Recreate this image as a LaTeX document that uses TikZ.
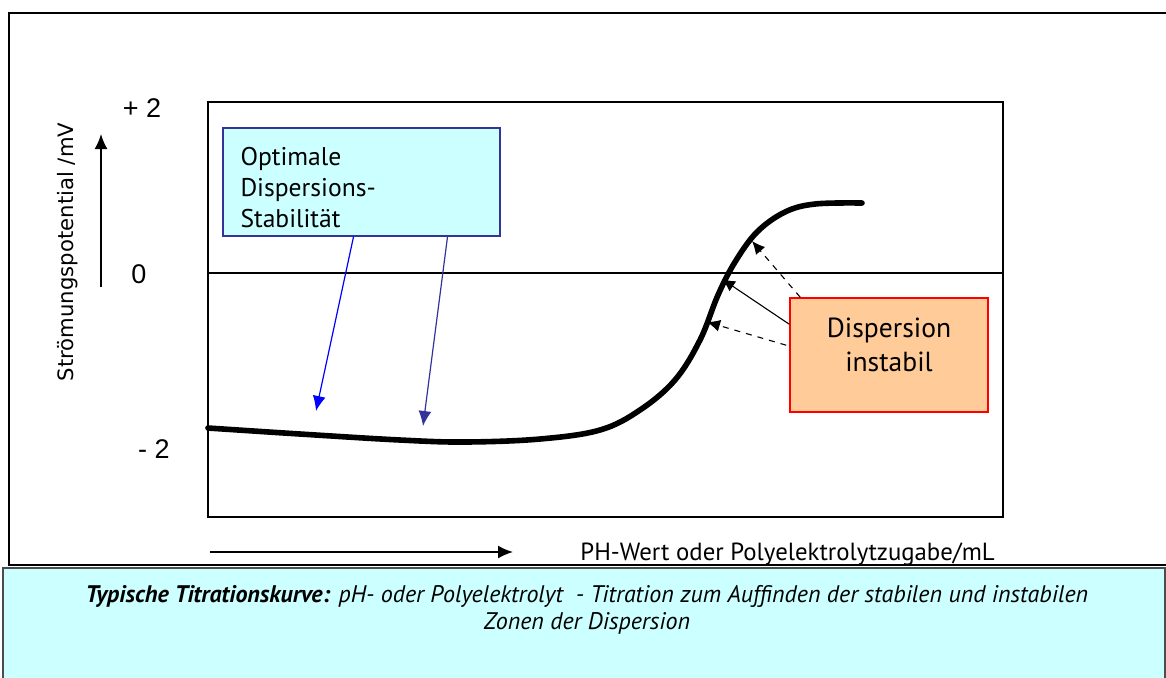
\documentclass[tikz,border=0pt]{standalone}
\usepackage{fontspec}
\setmainfont{PT Sans}
\newfontfamily\arialfont{Liberation Sans}
\newfontfamily\verdanafont{DejaVu Sans}
\usepackage{tikz}
\usetikzlibrary{arrows.meta,calc}

\definecolor{hellcyan}{HTML}{CCFFFF}
\definecolor{dunkelblau}{HTML}{333399}
\definecolor{hellorange}{HTML}{FFCC99}

\begin{document}
\begin{tikzpicture}[x=0.5pt,y=-0.5pt,
  rahmen/.style={draw=black, line width=1.1pt},
  stabilbox/.style={draw=dunkelblau, fill=hellcyan, line width=0.8pt, minimum width=138.5pt, minimum height=54pt, text width=121pt, inner xsep=8.5pt, align=left, font=\fontsize{12.8}{15.5}\selectfont},
  instabilbox/.style={draw=red, fill=hellorange, line width=0.8pt, minimum width=99pt, minimum height=57pt},
  zahl/.style={font=\arialfont\fontsize{13.5}{15}\selectfont},
  pfeil/.style={-{Latex[length=7.5pt,width=6.5pt]}},
  kleinpfeil/.style={-{Latex[length=6.5pt,width=6pt]}, line width=0.55pt}]
\useasboundingbox (0,0) rectangle (1166,677);
\clip (0,0) rectangle (1166,677);

% frames
\draw[rahmen] (9,13) rectangle (1180,565);
\draw[line width=0.8pt] (208,102) rectangle (1003,517);
\draw[line width=0.7pt] (208,273) -- (1003,273);

% y axis
\node[rotate=90, font=\verdanafont\fontsize{10.6}{12}\selectfont] (ylabel) at (68,252) {Strömungspotential /mV};
\coordinate (yfuss) at (101,287);
\coordinate (yspitze) at (101,134);
\draw[pfeil, line width=0.9pt] (yfuss) -- (yspitze);
\node[zahl] (plus2) at (142,108) {+ 2};
\node[zahl] (null) at (139,274) {0};
\node[zahl] (minus2) at (154,449) {- 2};

% x axis
\coordinate (xfuss) at (210,552);
\coordinate (xspitze) at (513,552);
\draw[-{Latex[length=7.5pt,width=6.5pt]}, line width=0.9pt] (xfuss) -- (xspitze);
\node[anchor=west, inner sep=0pt, font=\fontsize{12.4}{14}\selectfont] (xlabel) at (580,554) {PH-Wert oder Polyelektrolytzugabe/mL};

% titration curve
\draw[line width=2.8pt, line cap=round] plot[smooth, tension=0.6] coordinates {(208,428) (300,434) (400,440) (465,442) (540,439) (600,430) (640,410) (675,380) (700,340) (718,295) (735,262) (757,232) (785,212) (815,204) (862,203)};

% boxes
\node[stabilbox] (stabil) at (361.5,182) {\rule{0pt}{15pt}Optimale\\Dispersions-\\Stabilität};
\node[instabilbox] (instabil) at (889,355) {};
\node[align=center, font=\fontsize{13.8}{17}\selectfont] (instabiltext) at (889,345) {Dispersion\\instabil};

\coordinate (flachA) at (316,411);
\coordinate (flachB) at (423,426);
\draw[pfeil, blue, line width=0.6pt] ($(stabil.south)+(-8,0)$) -- (flachA);
\draw[pfeil, dunkelblau, line width=0.6pt] ($(stabil.south)+(86,0)$) -- (flachB);

\coordinate (steilA) at (752,241);
\coordinate (steilB) at (722,279);
\coordinate (steilC) at (707,322);
\draw[kleinpfeil, dashed] ($(instabil.north west)+(11,0)$) -- (steilA);
\draw[kleinpfeil] ($(instabil.north west)+(0,27)$) -- (steilB);
\draw[kleinpfeil, dashed] ($(instabil.north west)+(-3,48)$) -- (steilC);

% caption
\draw[draw=black!70, fill=hellcyan, line width=1pt] (3,568) rectangle (1165,680);
\node[align=center, font=\itshape\fontsize{12}{13.2}\selectfont] (caption) at (587,610) {\textbf{Typische Titrationskurve:} pH- oder Polyelektrolyt\ \ - Titration zum Auffinden der stabilen und instabilen\\Zonen der Dispersion};
\end{tikzpicture}
\end{document}
